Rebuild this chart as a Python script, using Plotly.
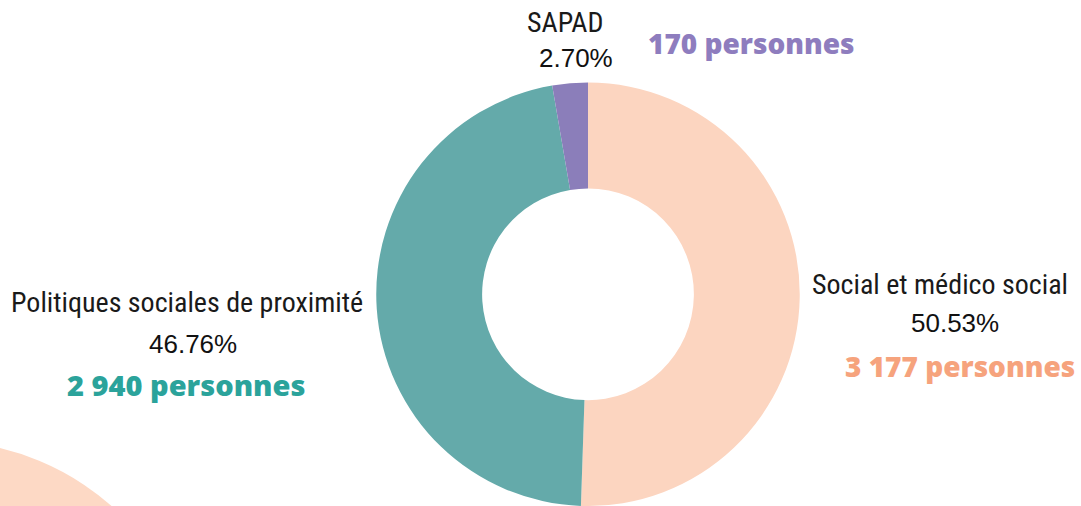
import plotly.graph_objects as go

labels = ["Social et médico social", "Politiques sociales de proximité", "SAPAD"]
counts = [3177, 2940, 170]
pct_labels = ["50.53%", "46.76%", "2.70%"]
count_labels = ["3 177 personnes", "2 940 personnes", "170 personnes"]
slice_colors = ["#FCD5C0", "#64AAAA", "#8B7EBA"]
count_colors = ["#F6A37D", "#2BA39B", "#8E7DBE"]

W, H = 1081, 506

fig = go.Figure()
fig.add_trace(go.Pie(
    labels=labels, values=counts, hole=0.5, sort=False, direction="clockwise",
    rotation=0, marker=dict(colors=slice_colors, line=dict(width=0)),
    textinfo="none", showlegend=False, hoverinfo="label+percent",
    domain=dict(x=[376 / W, 800 / W], y=[0, 1 - 82.5 / H]),
))

# decorative arc bottom-left
fig.add_shape(type="circle", xref="paper", yref="paper",
              x0=-319 / W, x1=199 / W, y0=1 - 959 / H, y1=1 - 441 / H,
              fillcolor="#FDD9C5", line=dict(width=0), layer="below")

label_font = "Liberation Sans Narrow, Roboto Condensed, Arial Narrow, sans-serif"
num_font = "Liberation Sans, Arial, sans-serif"
count_font = "Open Sans, Lato, sans-serif"

def ann(text, x, y, size, family, color, weight="normal"):
    fig.add_annotation(text=text, x=x / W, y=1 - y / H, xref="paper", yref="paper",
                       showarrow=False, xanchor="center", yanchor="middle",
                       font=dict(size=size, family=family, color=color, weight=weight))

# Social et médico social
ann(labels[0], 940, 284, 28, label_font, "#1a1a1a")
ann(pct_labels[0], 955, 323, 26, num_font, "#111111")
ann(count_labels[0], 960, 366, 28, count_font, count_colors[0], 800)

# Politiques sociales de proximité
ann(labels[1], 187, 302, 28, label_font, "#1a1a1a")
ann(pct_labels[1], 193, 344, 26, num_font, "#111111")
ann(count_labels[1], 186, 384, 29, count_font, count_colors[1], 800)

# SAPAD
ann(labels[2], 565, 23, 28, label_font, "#1a1a1a")
ann(pct_labels[2], 576, 58, 26, num_font, "#111111")
ann(count_labels[2], 751, 43, 28, count_font, count_colors[2], 800)

fig.update_layout(width=W, height=H, margin=dict(l=0, r=0, t=0, b=0),
                  paper_bgcolor="white", plot_bgcolor="white")
fig.write_html("out.html", config={"displayModeBar": False},
               post_script="document.body.style.margin='0';document.body.style.overflow='hidden';")
